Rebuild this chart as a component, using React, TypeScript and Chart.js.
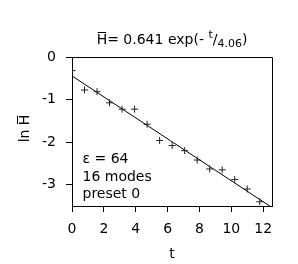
import React, { useEffect, useRef } from 'react';
import { Chart, registerables } from 'chart.js';

Chart.register(...registerables);

// ---- data ----
const tValues = [0, 0.785, 1.571, 2.356, 3.142, 3.927, 4.712, 5.498, 6.283, 7.069, 7.854, 8.639, 9.425, 10.21, 10.996, 11.781];
const lnHValues = [-0.32, -0.775, -0.815, -1.076, -1.225, -1.225, -1.58, -1.96, -2.08, -2.2, -2.42, -2.63, -2.65, -2.88, -3.1, -3.4];
const fitAmplitude = 0.641;
const fitTau = 4.06;
const xTicks = [0, 2, 4, 6, 8, 10, 12];
const yTicks = [0, -1, -2, -3];
const xRange = [0, 12.55];
const yRange = [-3.5, 0];
const annotationLines = ['ε = 64', '16 modes', 'preset 0'];
const xTitle = 't';

const FAMILY = '"DejaVu Sans"';
const MAIN = `14px ${FAMILY}`;
const SMALL = `11px ${FAMILY}`;

const decorPlugin = {
  id: 'decor',
  afterDraw(chart: any) {
    const { ctx, chartArea: ca } = chart;
    ctx.save();
    ctx.strokeStyle = '#000';
    ctx.lineWidth = 1;
    // top and right frame
    ctx.beginPath();
    ctx.moveTo(Math.round(ca.left), Math.round(ca.top) + 0.5);
    ctx.lineTo(Math.round(ca.right) + 0.5, Math.round(ca.top) + 0.5);
    ctx.lineTo(Math.round(ca.right) + 0.5, Math.round(ca.bottom) + 0.5);
    ctx.stroke();

    ctx.fillStyle = '#000';
    ctx.textBaseline = 'alphabetic';
    ctx.textAlign = 'left';

    // title with overline, superscript and subscript
    const parts = [
      { t: 'H', f: MAIN, dy: 0, over: true },
      { t: `= ${fitAmplitude} exp(- `, f: MAIN, dy: 0 },
      { t: 't', f: SMALL, dy: -6 },
      { t: '/', f: MAIN, dy: 0 },
      { t: fitTau.toFixed(2), f: SMALL, dy: 3 },
      { t: ')', f: MAIN, dy: 0 },
    ];
    let total = 0;
    const widths = parts.map((p) => {
      ctx.font = p.f;
      const w = ctx.measureText(p.t).width;
      total += w;
      return w;
    });
    const cx = (ca.left + ca.right) / 2;
    let x = cx - total / 2;
    const baseY = 44;
    parts.forEach((p, i) => {
      ctx.font = p.f;
      ctx.fillText(p.t, x, baseY + p.dy);
      if (p.over) {
        ctx.fillRect(x + 1, baseY - 12, widths[i] - 2, 1);
      }
      x += widths[i];
    });

    // annotation block
    ctx.font = MAIN;
    annotationLines.forEach((line, i) => {
      ctx.fillText(line, ca.left + 10.5, 163 + i * 17.6);
    });

    // x title
    ctx.textAlign = 'center';
    ctx.fillText(xTitle, cx, 258);

    // y title: ln H-bar rotated
    ctx.save();
    ctx.translate(29, 128.5);
    ctx.rotate(-Math.PI / 2);
    ctx.textAlign = 'left';
    ctx.font = MAIN;
    const pre = 'ln ';
    const wPre = ctx.measureText(pre).width;
    const wH = ctx.measureText('H').width;
    const wAll = wPre + wH;
    const sx = -wAll / 2;
    ctx.fillText(pre + 'H', sx, 0);
    ctx.fillRect(sx + wPre + 1, -12, wH - 2, 1);
    ctx.restore();

    ctx.restore();
  },
};

export default function App() {
  const ref = useRef<HTMLCanvasElement>(null);

  useEffect(() => {
    if (!ref.current) return;
    const points = tValues.map((t, i) => ({ x: t, y: lnHValues[i] }));
    const lnA = Math.log(fitAmplitude);
    const fitLine = [xRange[0], xRange[1]].map((t) => ({ x: t, y: lnA - t / fitTau }));

    const tickFont = { family: 'DejaVu Sans', size: 14 };
    const chart = new Chart(ref.current, {
      type: 'scatter',
      data: {
        datasets: [
          {
            data: points,
            pointStyle: 'cross',
            pointRadius: 3.5,
            pointBorderWidth: 1,
            borderColor: '#222',
            backgroundColor: '#222',
            showLine: false,
          } as any,
          {
            data: fitLine,
            showLine: true,
            pointRadius: 0,
            borderColor: '#000',
            borderWidth: 1,
          } as any,
        ],
      },
      options: {
        animation: false,
        responsive: false,
        maintainAspectRatio: false,
        devicePixelRatio: 1,
        layout: { padding: { left: 0, right: 26, top: 57, bottom: 0 } },
        plugins: {
          legend: { display: false },
          tooltip: { enabled: false },
          title: { display: false },
        },
        scales: {
          x: {
            type: 'linear',
            min: xRange[0],
            max: xRange[1],
            afterBuildTicks: (s: any) => {
              s.ticks = xTicks.map((v) => ({ value: v }));
            },
            afterFit: (s: any) => {
              s.height = 58;
            },
            grid: { drawOnChartArea: false, drawTicks: true, tickLength: 6, color: '#000', lineWidth: 1 },
            border: { display: true, color: '#000', width: 1 },
            ticks: { font: tickFont, color: '#000', padding: 9, maxRotation: 0, autoSkip: false },
          },
          y: {
            type: 'linear',
            min: yRange[0],
            max: yRange[1],
            afterBuildTicks: (s: any) => {
              s.ticks = yTicks.map((v) => ({ value: v }));
            },
            afterFit: (s: any) => {
              s.width = 72;
            },
            grid: { drawOnChartArea: false, drawTicks: true, tickLength: 6, color: '#000', lineWidth: 1 },
            border: { display: true, color: '#000', width: 1 },
            ticks: { font: tickFont, color: '#000', padding: 10, autoSkip: false },
          },
        },
      } as any,
      plugins: [decorPlugin],
    });
    return () => chart.destroy();
  }, []);

  return (
    <div style={{ position: 'absolute', left: 0, top: 0, width: 298, height: 264, background: '#fff' }}>
      <canvas ref={ref} width={298} height={264} style={{ width: 298, height: 264 }} />
    </div>
  );
}
